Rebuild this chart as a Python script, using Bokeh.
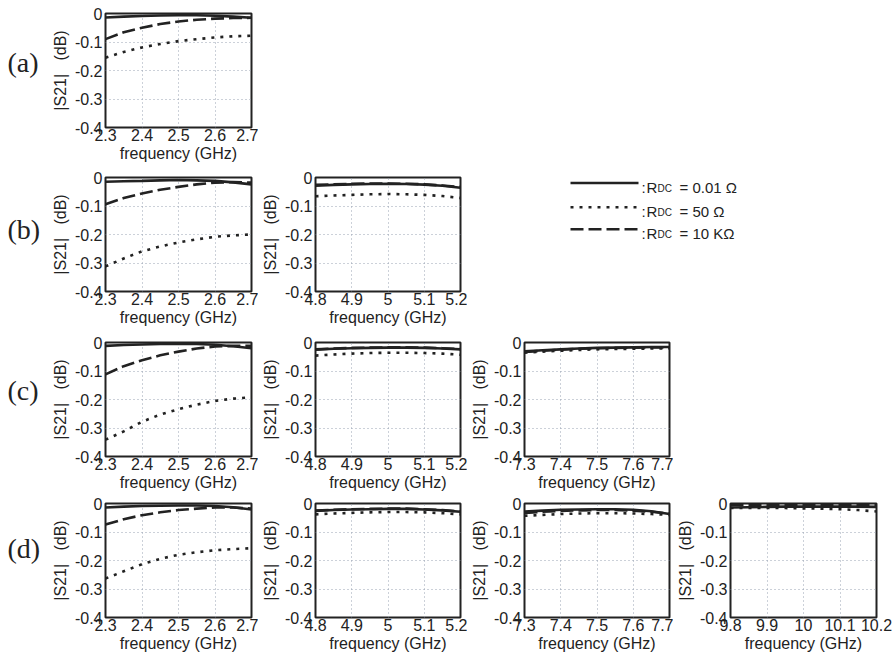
from bokeh.plotting import figure
from bokeh.layouts import row, column
from bokeh.models import Range1d, FixedTicker, CustomJSTickFormatter
from bokeh.core.properties import value
from bokeh.embed import file_html
from bokeh.resources import INLINE

# ---------------- data ----------------
freq_band1 = [2.30, 2.35, 2.40, 2.45, 2.50, 2.55, 2.60, 2.65, 2.70]
freq_band2 = [4.80, 4.85, 4.90, 4.95, 5.00, 5.05, 5.10, 5.15, 5.20]
freq_band3 = [7.30, 7.35, 7.40, 7.45, 7.50, 7.55, 7.60, 7.65, 7.70]
freq_band4 = [9.80, 9.85, 9.90, 9.95, 10.00, 10.05, 10.10, 10.15, 10.20]

ticks_band1 = [2.3, 2.4, 2.5, 2.6, 2.7]
ticks_band2 = [4.8, 4.9, 5.0, 5.1, 5.2]
ticks_band3 = [7.3, 7.4, 7.5, 7.6, 7.7]
ticks_band4 = [9.8, 9.9, 10.0, 10.1, 10.2]
ticks_s21 = [-0.4, -0.3, -0.2, -0.1, 0.0]

# (a)
a1_r001 = [-0.014, -0.011, -0.009, -0.007, -0.006, -0.006, -0.008, -0.011, -0.015]
a1_r50 = [-0.155, -0.135, -0.119, -0.107, -0.097, -0.090, -0.084, -0.080, -0.078]
a1_r10k = [-0.090, -0.066, -0.050, -0.037, -0.028, -0.022, -0.018, -0.016, -0.015]
# (b)
b1_r001 = [-0.015, -0.013, -0.012, -0.010, -0.009, -0.010, -0.012, -0.017, -0.024]
b1_r50 = [-0.312, -0.284, -0.259, -0.242, -0.228, -0.217, -0.208, -0.203, -0.200]
b1_r10k = [-0.094, -0.072, -0.056, -0.043, -0.033, -0.024, -0.018, -0.016, -0.018]
b2_r001 = [-0.029, -0.026, -0.024, -0.023, -0.022, -0.023, -0.025, -0.029, -0.036]
b2_r50 = [-0.066, -0.063, -0.061, -0.059, -0.058, -0.059, -0.061, -0.065, -0.072]
b2_r10k = [-0.026, -0.024, -0.022, -0.021, -0.021, -0.022, -0.024, -0.028, -0.033]
# (c)
c1_r001 = [-0.012, -0.009, -0.007, -0.005, -0.004, -0.005, -0.008, -0.013, -0.020]
c1_r50 = [-0.341, -0.312, -0.278, -0.253, -0.234, -0.218, -0.205, -0.197, -0.192]
c1_r10k = [-0.112, -0.083, -0.062, -0.045, -0.032, -0.021, -0.014, -0.012, -0.012]
c2_r001 = [-0.025, -0.022, -0.020, -0.019, -0.018, -0.018, -0.019, -0.021, -0.024]
c2_r50 = [-0.046, -0.042, -0.039, -0.037, -0.036, -0.036, -0.037, -0.039, -0.043]
c2_r10k = [-0.024, -0.021, -0.019, -0.018, -0.017, -0.017, -0.018, -0.020, -0.023]
c3_r001 = [-0.031, -0.027, -0.024, -0.021, -0.019, -0.018, -0.017, -0.016, -0.016]
c3_r50 = [-0.036, -0.032, -0.029, -0.026, -0.024, -0.023, -0.022, -0.021, -0.021]
c3_r10k = [-0.033, -0.029, -0.025, -0.022, -0.020, -0.019, -0.018, -0.017, -0.017]
# (d)
d1_r001 = [-0.014, -0.011, -0.009, -0.008, -0.007, -0.007, -0.009, -0.013, -0.021]
d1_r50 = [-0.263, -0.238, -0.213, -0.194, -0.180, -0.171, -0.164, -0.160, -0.157]
d1_r10k = [-0.074, -0.055, -0.041, -0.031, -0.023, -0.018, -0.014, -0.014, -0.018]
d2_r001 = [-0.026, -0.023, -0.021, -0.020, -0.019, -0.019, -0.021, -0.024, -0.029]
d2_r50 = [-0.038, -0.035, -0.033, -0.031, -0.030, -0.030, -0.031, -0.034, -0.038]
d2_r10k = [-0.025, -0.022, -0.020, -0.019, -0.018, -0.018, -0.020, -0.023, -0.028]
d3_r001 = [-0.028, -0.025, -0.022, -0.021, -0.020, -0.020, -0.022, -0.027, -0.037]
d3_r50 = [-0.043, -0.040, -0.037, -0.035, -0.034, -0.034, -0.035, -0.037, -0.040]
d3_r10k = [-0.033, -0.029, -0.026, -0.024, -0.023, -0.023, -0.025, -0.029, -0.036]
d4_r001 = [-0.014, -0.013, -0.012, -0.011, -0.011, -0.011, -0.011, -0.011, -0.012]
d4_r50 = [-0.016, -0.016, -0.016, -0.016, -0.017, -0.018, -0.020, -0.023, -0.028]
d4_r10k = [-0.005, -0.005, -0.004, -0.004, -0.004, -0.004, -0.004, -0.004, -0.005]

row_labels = ["(a)", "(b)", "(c)", "(d)"]
legend_values = ["0.01 Ω", "50 Ω", "10 KΩ"]
x_label = "frequency (GHz)"
y_label = "|S21|\u00a0\u00a0\u00a0(dB)"

# ---------------- style ----------------
INK = "#222222"
GRID = "#98a3b3"
SANS = "Liberation Sans"
SERIF = "Liberation Serif"
FH = 114
STYLES = {
    "solid": dict(line_dash="solid", line_width=2.6),
    "dot": dict(line_dash="3 6", line_width=2.6),
    "dash": dict(line_dash="13 5", line_width=2.6),
}

fmt_code = "return String(Math.round(tick*10)/10);"


def panel(x, r001, r50, r10k, xticks, L, FW, R, T, B):
    p = figure(width=L + FW + R, height=T + FH + B,
               x_range=Range1d(xticks[0], xticks[-1]), y_range=Range1d(-0.4, 0.0),
               output_backend="svg", toolbar_location=None, tools="",
               min_border_left=L, min_border_right=R, min_border_top=T, min_border_bottom=B)
    p.line(x, r001, line_color=INK, **STYLES["solid"])
    p.line(x, r50, line_color=INK, **STYLES["dot"])
    p.line(x, r10k, line_color=INK, **STYLES["dash"])
    p.xaxis.ticker = FixedTicker(ticks=xticks)
    p.yaxis.ticker = FixedTicker(ticks=ticks_s21)
    for ax in (p.xaxis[0], p.yaxis[0]):
        ax.formatter = CustomJSTickFormatter(code=fmt_code)
        ax.major_label_text_font = SANS
        ax.major_label_text_font_size = "16px"
        ax.major_label_text_color = INK
        ax.axis_label_text_font = SANS
        ax.axis_label_text_font_size = "16px"
        ax.axis_label_text_font_style = "normal"
        ax.axis_label_text_color = INK
        ax.major_tick_out = 0
        ax.major_tick_in = 0
        ax.minor_tick_out = 0
        ax.minor_tick_in = 0
        ax.axis_line_color = None
    p.xaxis.axis_label = x_label
    p.yaxis.axis_label = y_label
    p.xaxis.major_label_standoff = 1
    p.xaxis.axis_label_standoff = 1
    p.yaxis.major_label_standoff = 3
    p.yaxis.axis_label_standoff = 3
    for g in (p.xgrid[0], p.ygrid[0]):
        g.grid_line_color = GRID
        g.grid_line_dash = "1 3"
        g.grid_line_width = 1
    p.outline_line_color = INK
    p.outline_line_width = 2
    p.outline_line_alpha = 1.0
    p.background_fill_color = "white"
    p.border_fill_color = "white"
    return p


def blank(w, h):
    p = figure(width=w, height=h, x_range=Range1d(0, w), y_range=Range1d(h, 0),
               output_backend="svg", toolbar_location=None, tools="",
               x_axis_location=None, y_axis_location=None, min_border=0)
    p.grid.visible = False
    p.outline_line_color = None
    p.background_fill_color = "white"
    p.border_fill_color = "white"
    return p


def row_label(text, h, yc):
    p = blank(48, h)
    p.text(x=[7], y=[yc], text=[text], text_font=value(SERIF), text_font_size="28px",
           text_baseline="middle", text_align="left", text_color=INK)
    return p


# row heights: (T, B)
RA = (13, 40)
RB = (10, 41)
RC = (10, 37)
RD = (10, 39)
# columns: (L, FW, R)
C1 = (53, 150, 7)
C2 = (52, 150, 7)
C3 = (52, 150, 4)
C4 = (52, 151, 18)

pa1 = panel(freq_band1, a1_r001, a1_r50, a1_r10k, ticks_band1, *C1, *RA)

pb1 = panel(freq_band1, b1_r001, b1_r50, b1_r10k, ticks_band1, *C1, *RB)
pb2 = panel(freq_band2, b2_r001, b2_r50, b2_r10k, ticks_band2, *C2, *RB)

pc1 = panel(freq_band1, c1_r001, c1_r50, c1_r10k, ticks_band1, *C1, *RC)
pc2 = panel(freq_band2, c2_r001, c2_r50, c2_r10k, ticks_band2, *C2, *RC)
pc3 = panel(freq_band3, c3_r001, c3_r50, c3_r10k, ticks_band3, *C3, *RC)

pd1 = panel(freq_band1, d1_r001, d1_r50, d1_r10k, ticks_band1, *C1, *RD)
pd2 = panel(freq_band2, d2_r001, d2_r50, d2_r10k, ticks_band2, *C2, *RD)
pd3 = panel(freq_band3, d3_r001, d3_r50, d3_r10k, ticks_band3, *C3, *RD)
pd4 = panel(freq_band4, d4_r001, d4_r50, d4_r10k, ticks_band4, *C4, *RD)

hA = sum(RA) + FH
hB = sum(RB) + FH
hC = sum(RC) + FH
hD = sum(RD) + FH

# legend (custom, with subscript)
leg = blank(427, hB)
keys = ["solid", "dot", "dash"]
line_y = [8, 43, 75]
for k, yy, val in zip(keys, line_y, legend_values):
    leg.line([103, 171], [yy, yy], line_color=INK, **STYLES[k])
    base = yy + 6
    leg.text(x=[174], y=[base], text=[":"], text_font=value(SANS), text_font_size="15px",
             text_baseline="alphabetic", text_color=INK)
    leg.text(x=[179], y=[base], text=["R"], text_font=value(SANS), text_font_size="15px",
             text_baseline="alphabetic", text_color=INK)
    leg.text(x=[190], y=[base + 1.5], text=["DC"], text_font=value(SANS), text_font_size="10px",
             text_baseline="alphabetic", text_color=INK)
    leg.text(x=[212], y=[base], text=["= " + val], text_font=value(SANS), text_font_size="15px",
             text_baseline="alphabetic", text_color=INK)

la = row_label(row_labels[0], hA, 72)
lb = row_label(row_labels[1], hB, 75)
lc = row_label(row_labels[2], hC, 68)
ld = row_label(row_labels[3], hD, 64)

layout = column(
    row(la, pa1),
    row(lb, pb1, pb2, leg),
    row(lc, pc1, pc2, pc3),
    row(ld, pd1, pd2, pd3, pd4),
)

open("out.html", "w").write(file_html(layout, INLINE))
